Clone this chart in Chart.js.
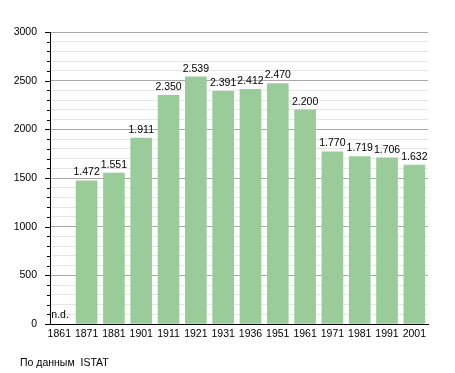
<!DOCTYPE html>
<html>
<head>
<meta charset="utf-8">
<script src="https://cdn.jsdelivr.net/npm/chart.js@4/dist/chart.umd.min.js"></script>
<style>
html,body{margin:0;padding:0;background:#fff;}
#wrap{position:relative;width:455px;height:373px;}
#src{position:absolute;left:20px;top:356px;font:10.5px "Liberation Sans",Arial,sans-serif;color:#000;white-space:pre;}
</style>
</head>
<body>
<div id="wrap">
<canvas id="c" width="455" height="373"></canvas>
<div id="src">По данным  ISTAT</div>
</div>
<script>
const years = ["1861","1871","1881","1901","1911","1921","1931","1936","1951","1961","1971","1981","1991","2001"];
const population = [null,1472,1551,1911,2350,2539,2391,2412,2470,2200,1770,1719,1706,1632];
const missingLabel = "n.d.";

const FONT = '"Liberation Sans", Arial, sans-serif';

function fmt(v){ return String(v).replace(/\B(?=(\d{3})+(?!\d))/g, "."); }

const labelsPlugin = {
  id: 'labels',
  afterDatasetsDraw(chart){
    const ctx = chart.ctx;
    const meta = chart.getDatasetMeta(0);
    const ys = chart.scales.y, xs = chart.scales.x;
    ctx.save();
    ctx.font = '10.5px ' + FONT;
    ctx.fillStyle = '#000';
    ctx.textAlign = 'center';
    ctx.textBaseline = 'bottom';
    population.forEach((v,i)=>{
      if (v === null) {
        ctx.textAlign = 'left';
        ctx.fillText(missingLabel, xs.getPixelForValue(i) - 8, ys.getPixelForValue(0) - 4);
        ctx.textAlign = 'center';
      } else {
        const el = meta.data[i];
        ctx.fillText(fmt(v), el.x, el.y - 3);
      }
    });
    ctx.strokeStyle = '#000';
    ctx.lineWidth = 1;
    ys.ticks.forEach(t=>{
      const py = Math.round(ys.getPixelForValue(t.value)) + 0.5;
      const len = t.value % 500 === 0 ? 5 : 3;
      ctx.beginPath();
      ctx.moveTo(ys.right - len, py);
      ctx.lineTo(ys.right, py);
      ctx.stroke();
    });
    ctx.restore();
  }
};

new Chart(document.getElementById('c'), {
  type: 'bar',
  data: {
    datasets: [{
      data: population.map((v,i)=>({x:i, y:v})),
      backgroundColor: '#99cc99',
      borderWidth: 0,
      barThickness: 21
    }]
  },
  options: {
    responsive: false,
    animation: false,
    devicePixelRatio: 1,
    layout: { padding: { left: 0, top: 32, right: 27, bottom: 0 } },
    plugins: { legend: { display: false }, tooltip: { enabled: false } },
    scales: {
      x: {
        type: 'linear',
        offset: false,
        min: -0.34,
        max: 13.5,
        grid: { display: false, offset: false },
        border: { display: true, color: '#000', width: 1 },
        ticks: {
          stepSize: 1,
          includeBounds: false,
          autoSkip: false,
          maxRotation: 0,
          maxTicksLimit: 100,
          padding: -4,
          color: '#000',
          font: { family: FONT, size: 10.5 },
          callback: (v)=> Number.isInteger(v) && years[v] ? years[v] : ''
        },
        afterFit: (s)=>{ s.height = 49; }
      },
      y: {
        min: 0,
        max: 3000,
        grid: {
          drawTicks: false,
          color: (c)=> c.tick && c.tick.value % 500 === 0 ? '#a8a8a8' : '#e6e6e6',
          lineWidth: 1
        },
        border: { display: true, color: '#000', width: 1 },
        ticks: {
          stepSize: 100,
          autoSkip: false,
          maxTicksLimit: 100,
          padding: 13,
          color: '#000',
          font: { family: FONT, size: 10.5 },
          callback: (v)=> v % 500 === 0 ? String(v) : ''
        },
        afterFit: (s)=>{ s.width = 50; }
      }
    }
  },
  plugins: [labelsPlugin]
});
</script>
</body>
</html>
